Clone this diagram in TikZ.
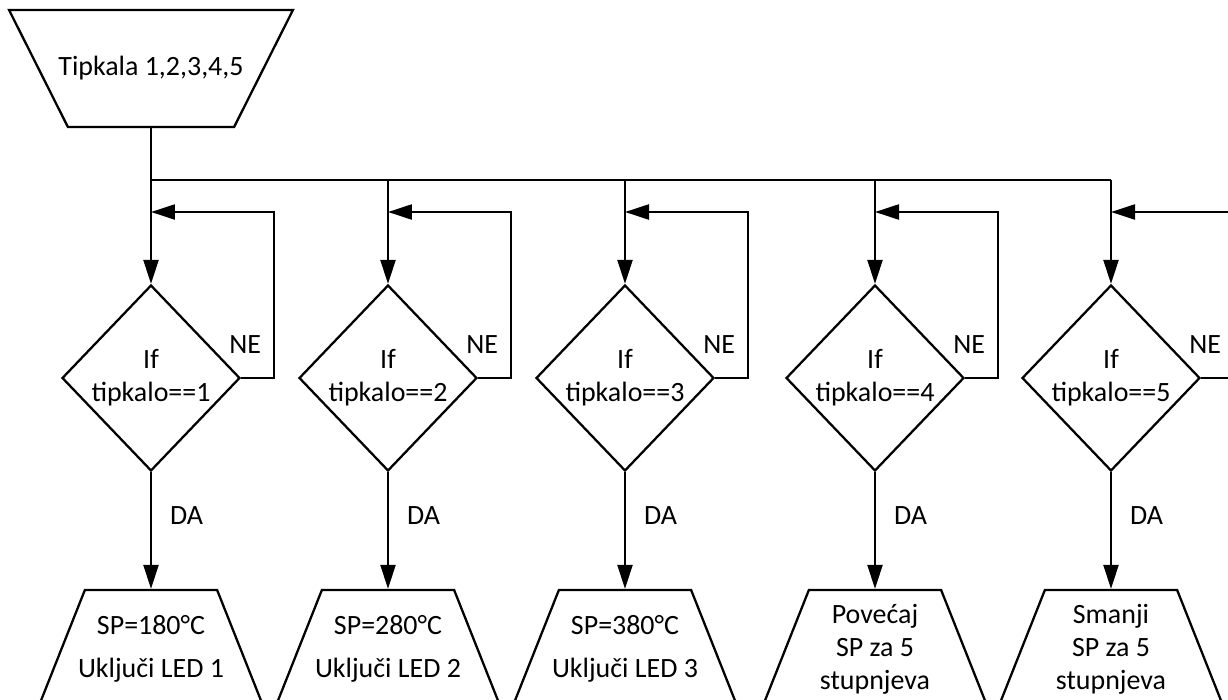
\documentclass[tikz,border=0pt]{standalone}
\usepackage{fontspec}
\setmainfont{Carlito}
\usetikzlibrary{arrows.meta,positioning,calc,shapes.geometric}
\tikzset{
  flow/.style={line width=1.3pt},
  arr/.style={flow, -{Triangle[length=0.48cm, width=0.3cm]}},
  ulaz/.style={draw, flow, trapezium, trapezium stretches=true,
    trapezium left angle=70.5, trapezium right angle=70.5, inner sep=2pt},
  odluka/.style={draw, flow, diamond, inner sep=2pt,
    minimum width=3.56cm, minimum height=3.72cm},
  txt/.style={align=center, inner sep=0pt, font=\fontsize{15.9}{18.8}\selectfont},
}

\begin{document}
\begin{tikzpicture}[x=0.02cm, y=-0.02cm]
  \useasboundingbox (0,0) rectangle (1228,700);
  \clip (0,0) rectangle (1228,700);
  % ulazni blok (tipkala)
  \node[ulaz, shape border rotate=180, minimum width=5.68cm, minimum height=2.34cm] (tipke) at (151,68.5) {};
  \node[txt] (tipkeT) at (tipke) {Tipkala 1,2,3,4,5};
  \coordinate (sab) at (151,180);
  \coordinate (petlja) at (0,212);
  % odluke i izlazi, stupac po stupac
  \foreach \i/\x/\izlaz in {1/151/{SP=180°C\\[6pt]Uključi LED 1},
                            2/388/{SP=280°C\\[6pt]Uključi LED 2},
                            3/625/{SP=380°C\\[6pt]Uključi LED 3},
                            4/875/{Povećaj\\SP za 5\\stupnjeva},
                            5/1111/{Smanji\\SP za 5\\stupnjeva}}{
    \node[odluka] (d\i) at (\x,378) {};
    \node[txt] (dT\i) at (d\i) {If\\tipkalo==\i};
    \node[ulaz, minimum width=4.52cm, minimum height=2.36cm] (b\i) at (\x,649) {};
    \node[txt] (bT\i) at (b\i) {\izlaz};
    \draw[arr] (d\i.south) -- node[txt, pos=0.37, right=0.36cm] (da\i) {DA} (b\i.north);
    \draw[arr] (d\i.east) -- ++(33,0) |- (d\i.north |- petlja);
    \node[txt] (ne\i) at ($(d\i.east)+(4,-33)$) {NE};
  }
  % sabirnica
  \draw[arr] (tipke.south) -- (d1.north);
  \draw[flow] (sab) -- (d5.north |- sab);
  \foreach \i in {2,...,5}
    \draw[arr] (d\i.north |- sab) -- (d\i.north);
\end{tikzpicture}
\end{document}
